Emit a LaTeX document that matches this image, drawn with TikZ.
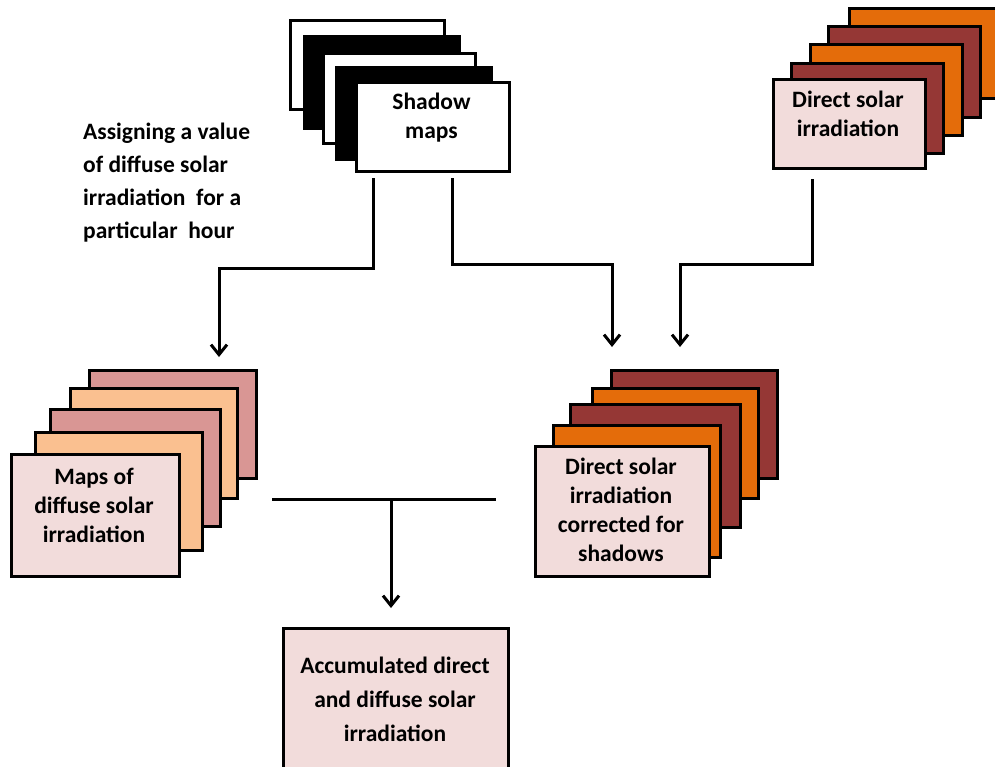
\documentclass[tikz,border=0pt]{standalone}
\usepackage{fontspec}
\setmainfont{Carlito}
\usetikzlibrary{arrows.meta}
\definecolor{lpink}{HTML}{F2DCDB}
\definecolor{maroon}{HTML}{953735}
\definecolor{dorange}{HTML}{E46C0A}
\definecolor{rosy}{HTML}{D99694}
\definecolor{peach}{HTML}{FAC090}
\begin{document}
\begin{tikzpicture}[x=1pt,y=-1pt,
  sheet/.style={draw=black, line width=3pt},
  conn/.style={line width=3pt, line join=miter},
  arr/.style={conn, -{Straight Barb[length=10pt,width=16pt,line width=3pt]}},
  lbl/.style={font=\bfseries\fontsize{23.5}{29}\selectfont, align=center, inner sep=0pt}]
\useasboundingbox (0,0) rectangle (995,766);
\clip (0,0) rectangle (995,766);

% Shadow maps stack
\path[sheet, fill=white] (290,20) rectangle (444,109);
\path[sheet, fill=black] (304,36) rectangle (459,128);
\path[sheet, fill=white] (323,53) rectangle (475,143);
\path[sheet, fill=black] (336,67) rectangle (491,159);
\node[sheet, fill=white, minimum width=153pt, minimum height=89pt, anchor=north west] (shadow) at (355,81) {};
\node[lbl] (shadowtxt) at (431.5,117.5) {Shadow\\maps};

% Direct solar irradiation stack
\path[sheet, fill=dorange] (849,8) rectangle (1001,98);
\path[sheet, fill=maroon] (828,26) rectangle (980,117);
\path[sheet, fill=dorange] (810,44) rectangle (962,135);
\path[sheet, fill=maroon] (791,63) rectangle (943,153);
\node[sheet, fill=lpink, minimum width=152pt, minimum height=89pt, anchor=north west] (direct) at (772,78) {};
\node[lbl] (directtxt) at (848,114) {Direct solar\\irradiation};

% Maps of diffuse solar irradiation stack
\path[sheet, fill=rosy] (89,370) rectangle (256,478);
\path[sheet, fill=peach] (70,388) rectangle (237,498);
\path[sheet, fill=rosy] (50,409) rectangle (220,526);
\path[sheet, fill=peach] (35,432) rectangle (202,550);
\node[sheet, fill=lpink, minimum width=168pt, minimum height=122pt, anchor=north west] (diffuse) at (10,453) {};
\node[lbl] (diffusetxt) at (94,505) {Maps of\\diffuse solar\\irradiation};

% Direct corrected stack
\path[sheet, fill=maroon] (611,370) rectangle (777,478);
\path[sheet, fill=dorange] (592,388) rectangle (758,498);
\path[sheet, fill=maroon] (570,404) rectangle (740,527);
\path[sheet, fill=dorange] (553,425) rectangle (720,557);
\node[sheet, fill=lpink, minimum width=174pt, minimum height=130pt, anchor=north west] (corrected) at (534,445) {};
\node[lbl] (correctedtxt) at (621,509.5) {Direct solar\\irradiation\\corrected for\\shadows};

% Accumulated box
\node[sheet, fill=lpink, minimum width=225pt, minimum height=170pt, anchor=north west] (accum) at (282,627) {};
\node[lbl, font=\bfseries\fontsize{23.5}{34}\selectfont] (accumtxt) at (395,699) {Accumulated direct\\and diffuse solar\\irradiation};

% Side text
\node[font=\bfseries\fontsize{23.5}{33}\selectfont, align=left, inner sep=0pt, anchor=west] (assign) at (83,182.5)
  {Assigning a value\\of diffuse solar\\irradiation\ \ for a\\particular\ \ hour};

% Connector coordinates
\coordinate (s1) at (373,178);
\coordinate (s2) at (452,178);
\coordinate (d1) at (812,179);
\coordinate (e1) at (219,357);
\coordinate (e2) at (612,347);
\coordinate (e3) at (680,347);
\coordinate (hl) at (272,499);
\coordinate (hr) at (496,499);
\coordinate (hm) at (391,499);
\coordinate (e4) at (391,608);

\draw[arr] (s1) -- (373,268) -- (219,268) -- (e1);
\draw[arr] (s2) -- (452,264) -- (612,264) -- (e2);
\draw[arr] (d1) -- (812,264) -- (680,264) -- (e3);
\draw[conn] (hl) -- (hr);
\draw[arr] (hm) -- (e4);
\end{tikzpicture}
\end{document}
